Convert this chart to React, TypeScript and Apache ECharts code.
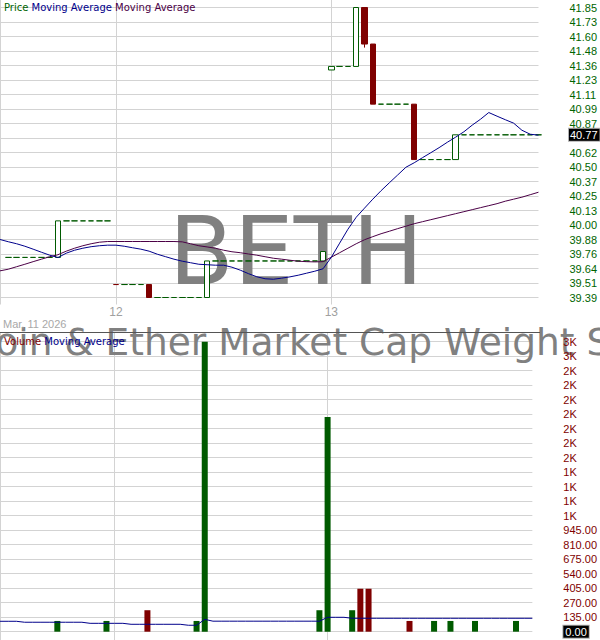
import React, { useEffect, useRef } from 'react';
import * as echarts from 'echarts';

// ---------- data ----------
const sessionDays = [
  { day: '11', first: 12 },
  { day: '12', first: 0 },
  { day: '13', first: 0 },
];
const BARS_PER_DAY = 26;
function barTime(n: number) {
  const m = 9 * 60 + 30 + 15 * n;
  return `${String(Math.floor(m / 60)).padStart(2, '0')}:${String(m % 60).padStart(2, '0')}`;
}
const categories: string[] = [];
sessionDays.forEach((d) => {
  for (let n = d.first; n < BARS_PER_DAY; n++) categories.push(`${d.day} ${barTime(n)}`);
});

// [open, close, low, high]
const ohlc: (number[] | null)[] = [
  null,
  [39.73, 39.73, 39.73, 39.73], [39.73, 39.73, 39.73, 39.73], [39.73, 39.73, 39.73, 39.73],
  [39.73, 39.73, 39.73, 39.73], [39.73, 39.73, 39.73, 39.73], [39.73, 39.73, 39.73, 39.73],
  [39.73, 40.04, 39.73, 40.04],
  [40.04, 40.04, 40.04, 40.04], [40.04, 40.04, 40.04, 40.04], [40.04, 40.04, 40.04, 40.04],
  [40.04, 40.04, 40.04, 40.04], [40.04, 40.04, 40.04, 40.04], [40.04, 40.04, 40.04, 40.04],
  [39.50, 39.50, 39.50, 39.50], [39.50, 39.50, 39.50, 39.50], [39.50, 39.50, 39.50, 39.50],
  [39.50, 39.50, 39.50, 39.50],
  [39.50, 39.39, 39.39, 39.50],
  [39.39, 39.39, 39.39, 39.39], [39.39, 39.39, 39.39, 39.39], [39.39, 39.39, 39.39, 39.39],
  [39.39, 39.39, 39.39, 39.39], [39.39, 39.39, 39.39, 39.39], [39.39, 39.39, 39.39, 39.39],
  [39.39, 39.70, 39.39, 39.70],
  [39.70, 39.70, 39.70, 39.70], [39.70, 39.70, 39.70, 39.70], [39.70, 39.70, 39.70, 39.70],
  [39.70, 39.70, 39.70, 39.70], [39.70, 39.70, 39.70, 39.70], [39.70, 39.70, 39.70, 39.70],
  [39.70, 39.70, 39.70, 39.70], [39.70, 39.70, 39.70, 39.70], [39.70, 39.70, 39.70, 39.70],
  [39.70, 39.70, 39.70, 39.70], [39.70, 39.70, 39.70, 39.70], [39.70, 39.70, 39.70, 39.70],
  [39.70, 39.70, 39.70, 39.70],
  [39.70, 39.78, 39.70, 39.78],
  [41.32, 41.35, 41.32, 41.35],
  [41.35, 41.35, 41.35, 41.35], [41.35, 41.35, 41.35, 41.35],
  [41.35, 41.85, 41.35, 41.85],
  [41.85, 41.54, 41.51, 41.85],
  [41.54, 41.03, 41.03, 41.54],
  [41.03, 41.03, 41.03, 41.03], [41.03, 41.03, 41.03, 41.03], [41.03, 41.03, 41.03, 41.03],
  [41.03, 41.03, 41.03, 41.03],
  [41.03, 40.56, 40.56, 41.03],
  [40.56, 40.56, 40.56, 40.56], [40.56, 40.56, 40.56, 40.56], [40.56, 40.56, 40.56, 40.56],
  [40.56, 40.56, 40.56, 40.56],
  [40.56, 40.77, 40.56, 40.77],
  [40.77, 40.77, 40.77, 40.77], [40.77, 40.77, 40.77, 40.77], [40.77, 40.77, 40.77, 40.77],
  [40.77, 40.77, 40.77, 40.77], [40.77, 40.77, 40.77, 40.77], [40.77, 40.77, 40.77, 40.77],
  [40.77, 40.77, 40.77, 40.77], [40.77, 40.77, 40.77, 40.77], [40.77, 40.77, 40.77, 40.77],
  [40.77, 40.77, 40.77, 40.77],
];

const maFast = [
  39.882, 39.863, 39.846, 39.825, 39.800, 39.774, 39.749, 39.729, 39.766, 39.791,
  39.808, 39.821, 39.829, 39.834, 39.834, 39.825, 39.812, 39.800, 39.783, 39.757,
  39.736, 39.715, 39.698, 39.685, 39.672, 39.668, 39.664, 39.664, 39.647, 39.622,
  39.592, 39.566, 39.549, 39.545, 39.554, 39.565, 39.579, 39.596, 39.613, 39.634,
  39.732, 39.851, 39.969, 40.071, 40.148, 40.224, 40.296, 40.363, 40.429, 40.495,
  40.533, 40.576, 40.618, 40.661, 40.707, 40.750, 40.796, 40.852, 40.902, 40.959,
  40.928, 40.898, 40.869, 40.809, 40.775, 40.767,
];

const maSlow = [
  39.616, 39.630, 39.651, 39.672, 39.694, 39.715, 39.736, 39.753, 39.783, 39.808,
  39.829, 39.846, 39.859, 39.865, 39.865, 39.865, 39.865, 39.865, 39.865, 39.865,
  39.865, 39.865, 39.862, 39.846, 39.829, 39.819, 39.808, 39.791, 39.778, 39.770,
  39.759, 39.749, 39.736, 39.723, 39.715, 39.706, 39.698, 39.694, 39.692, 39.694,
  39.732, 39.770, 39.808, 39.846, 39.880, 39.906, 39.931, 39.952, 39.974, 39.995,
  40.016, 40.033, 40.050, 40.067, 40.084, 40.101, 40.118, 40.135, 40.152, 40.169,
  40.186, 40.207, 40.224, 40.241, 40.262, 40.283,
];

const volumes = [
  0, 0, 0, 0, 0, 0, 0, 100, 0, 0,
  0, 0, 0, 100, 0, 0, 0, 0, 200, 0,
  0, 0, 0, 0, 100, 2700, 0, 0, 0, 0,
  0, 0, 0, 0, 0, 0, 0, 0, 0, 200,
  2000, 0, 0, 200, 400, 400, 0, 0, 0, 0,
  100, 0, 0, 100, 0, 100, 0, 0, 100, 0,
  0, 0, 0, 100, 0, 0,
];

const volMA = [
  97, 97, 97, 88, 88, 88, 88, 88, 88, 88,
  88, 78, 78, 78, 78, 78, 69, 69, 69, 69,
  69, 69, 69, 60, 60, 115, 98, 98, 98, 98,
  98, 98, 98, 98, 98, 98, 98, 98, 98, 98,
  134, 134, 134, 125, 125, 125, 125, 125, 125, 125,
  125, 125, 125, 125, 125, 125, 125, 125, 125, 125,
  125, 125, 125, 125, 125, 125,
];

// tick labels, bottom to top
const priceTickLabels = [
  '39.39', '39.51', '39.64', '39.76', '39.88', '40.00', '40.13', '40.25', '40.37', '40.50',
  '40.62', '', '40.87', '40.99', '41.11', '41.23', '41.36', '41.48', '41.60', '41.73', '41.85',
];
const volTickLabels = [
  '0.00', '135.00', '270.00', '405.00', '540.00', '675.00', '810.00', '945.00',
  '1K', '1K', '1K', '1K', '2K', '2K', '2K', '2K', '2K', '2K', '2K', '3K', '3K',
];
const P_MIN = 39.39;
const P_STEP = 0.123;
const V_STEP = 135;

const titleText = 'ProShares Bitcoin & Ether Market Cap Weight Strategy ETF';
const symbolText = 'BETH';
const dateText = 'Mar, 11 2026';

// ---------- styles ----------
const GREEN = '#005a00';
const RED = '#7f0000';
const BLUE = '#00008b';
const PURPLE = '#4b0046';
const GRIDC = '#d3d3d3';
const AXIS_FONT = 'Liberation Sans, Arial, sans-serif';
const LEG_FONT = 'DejaVu Sans, sans-serif';

const toU = (p: number) => (p - P_MIN) / P_STEP;

export default function App() {
  const ref = useRef<HTMLDivElement>(null);
  useEffect(() => {
    if (!ref.current) return;
    const chart = echarts.init(ref.current, undefined, { renderer: 'svg' });

    const candleData = ohlc.map((r, k) => {
      if (!r) return '-';
      const [o, c, l, h] = r;
      const value = [toU(o), toU(c), toU(l), toU(h)];
      if (o === c) {
        const prevRow = k > 0 ? ohlc[k - 1] : null;
        const prev = prevRow ? prevRow[1] : c;
        const col = prev > c ? RED : GREEN;
        return { value, itemStyle: { borderColor: col, borderColor0: col, borderColorDoji: col } };
      }
      return { value };
    });
    const volData = volumes.map((v, k) => {
      const r = ohlc[k];
      let down = false;
      if (r) {
        const prevRow = k > 0 ? ohlc[k - 1] : null;
        down = r[1] < r[0] || (r[1] === r[0] && !!prevRow && prevRow[1] > r[1]);
      }
      return { value: v, itemStyle: { color: down ? RED : GREEN } };
    });
    const lastIndex = ohlc.length - 1;
    const lastRow = ohlc[lastIndex] as number[];
    const lastPrice = lastRow[1];

    const isDayStart = (idx: number, val: string) => idx === 0 || val.endsWith('09:30');
    const isDayLabel = (_idx: number, val: string) => val.endsWith('09:30');

    const priceMax = 20 + 7.5 / 14.5;
    const volMax = 2700 + (9.7 / 14.5) * V_STEP;
    const priceSplitColors = Array(21).fill(GRIDC).concat(['rgba(0,0,0,0)']);
    const volSplitColors = Array(21).fill(GRIDC).concat(['rgba(0,0,0,0)']);

    const baseGraphics: any[] = [
      {
        id: 'sym', type: 'text', x: 296, y: 251, z: 1, silent: true,
        style: {
          text: symbolText, fill: '#808080', font: `95px ${LEG_FONT}`,
          align: 'center', verticalAlign: 'middle',
        },
      },
      {
        id: 'title', type: 'text', x: 276, y: 342, z: 1, silent: true,
        style: {
          text: titleText, fill: '#808080', font: `37.5px ${LEG_FONT}`,
          align: 'center', verticalAlign: 'middle',
        },
      },
      {
        id: 'sep', type: 'line', z: 10, silent: true,
        shape: { x1: 0, y1: 332.5, x2: 540, y2: 332.5 },
        style: { stroke: '#555555', lineWidth: 1 },
      },
      {
        id: 'legP', type: 'text', x: 4, y: 7, z: 10, silent: true,
        style: {
          text: '{a|Price} {b|Moving Average} {c|Moving Average}',
          font: `10px ${LEG_FONT}`, verticalAlign: 'middle',
          rich: {
            a: { fill: '#006400', font: `10px ${LEG_FONT}` },
            b: { fill: BLUE, font: `10px ${LEG_FONT}` },
            c: { fill: PURPLE, font: `10px ${LEG_FONT}` },
          },
        },
      },
      {
        id: 'legV', type: 'text', x: 4, y: 341, z: 10, silent: true,
        style: {
          text: '{a|Volume} {b|Moving Average}',
          font: `10px ${LEG_FONT}`, verticalAlign: 'middle',
          rich: {
            a: { fill: '#800000', font: `10px ${LEG_FONT}` },
            b: { fill: BLUE, font: `10px ${LEG_FONT}` },
          },
        },
      },
      {
        id: 'date', type: 'text', x: 3, y: 324, z: 10, silent: true,
        style: { text: dateText, fill: '#a8a8a8', font: `11px ${AXIS_FONT}`, verticalAlign: 'middle' },
      },
    ];

    const option: any = {
      animation: false,
      backgroundColor: '#ffffff',
      grid: [
        { left: 0, top: 0, width: 540, height: 297.5 },
        { left: 0, top: 332, width: 540, height: 299.7 },
      ],
      xAxis: [
        {
          type: 'category', gridIndex: 0, data: categories, boundaryGap: false,
          axisLine: { show: false },
          axisTick: { show: true, interval: isDayStart, length: 7, lineStyle: { color: GRIDC } },
          axisLabel: {
            show: true, interval: isDayLabel, margin: 8, color: '#a0a0a0', fontSize: 12,
            fontFamily: AXIS_FONT, formatter: (v: string) => v.split(' ')[0],
          },
          splitLine: { show: true, interval: isDayStart, lineStyle: { color: GRIDC } },
        },
        {
          type: 'category', gridIndex: 1, data: categories, boundaryGap: false,
          axisLine: { show: false },
          axisTick: { show: true, interval: isDayStart, length: 10, lineStyle: { color: GRIDC } },
          axisLabel: { show: false },
          splitLine: { show: true, interval: isDayStart, lineStyle: { color: GRIDC } },
        },
      ],
      yAxis: [
        {
          type: 'value', gridIndex: 0, position: 'right', min: 0, max: priceMax, interval: 1,
          axisLine: { show: false }, axisTick: { show: false },
          splitLine: { show: true, lineStyle: { color: priceSplitColors } },
          axisLabel: {
            margin: 31, color: '#006400', fontSize: 11, fontFamily: AXIS_FONT,
            formatter: (v: number) => {
              const i = Math.round(v);
              if (Math.abs(v - i) > 1e-6) return '';
              return priceTickLabels[i] ?? '';
            },
          },
        },
        {
          type: 'value', gridIndex: 1, position: 'right', min: 0, max: volMax, interval: V_STEP,
          axisLine: { show: false }, axisTick: { show: false },
          splitLine: { show: true, lineStyle: { color: volSplitColors } },
          axisLabel: { show: false },
        },
        {
          type: 'value', gridIndex: 1, position: 'right', min: 0, max: volMax, interval: V_STEP, z: 5,
          axisLine: { show: false }, axisTick: { show: false }, splitLine: { show: false },
          axisLabel: {
            margin: 31, color: '#800000', fontSize: 11, fontFamily: AXIS_FONT,
            formatter: (v: number) => {
              const i = Math.round(v / V_STEP);
              if (Math.abs(v - i * V_STEP) > 1e-6) return '';
              if (i === 0) return `{cur|${volTickLabels[0]}}`;
              return volTickLabels[i] ?? '';
            },
            rich: {
              cur: {
                color: '#ffffff', backgroundColor: '#000000', padding: [1, 2, 0, 2],
                fontSize: 11, fontFamily: AXIS_FONT, borderColor: '#b0b0b0', borderWidth: 1,
              },
            },
          },
        },
      ],
      series: [
        {
          type: 'candlestick', xAxisIndex: 0, yAxisIndex: 0, data: candleData, barWidth: 6, clip: false,
          itemStyle: {
            color: '#ffffff', color0: RED, borderColor: GREEN, borderColor0: RED,
            borderColorDoji: GREEN, borderWidth: 1,
          },
        },
        {
          type: 'line', xAxisIndex: 0, yAxisIndex: 0, data: maSlow.map(toU), symbol: 'none',
          lineStyle: { color: PURPLE, width: 1 }, z: 3,
        },
        {
          type: 'line', xAxisIndex: 0, yAxisIndex: 0, data: maFast.map(toU), symbol: 'none',
          lineStyle: { color: BLUE, width: 1 }, z: 3,
        },
        {
          type: 'bar', xAxisIndex: 1, yAxisIndex: 1, data: volData, barWidth: 6,
        },
        {
          type: 'line', xAxisIndex: 1, yAxisIndex: 1, data: volMA, symbol: 'none',
          lineStyle: { color: BLUE, width: 1 }, z: 3,
        },
      ],
      graphic: { elements: baseGraphics },
    };
    chart.setOption(option);

    // last price box placed through the price axis scale
    const pt = chart.convertToPixel({ xAxisIndex: 0, yAxisIndex: 0 } as any, [lastIndex, toU(lastPrice)]) as any;
    const yPix = Array.isArray(pt) ? pt[1] : 135;
    chart.setOption({
      graphic: {
        elements: [
          ...baseGraphics,
          {
            id: 'lastBox', type: 'text', x: 569, y: yPix, z: 20, silent: true,
            style: {
              text: lastPrice.toFixed(2), fill: '#ffffff', font: `11px ${AXIS_FONT}`,
              verticalAlign: 'middle', backgroundColor: '#000000', borderColor: '#b0b0b0',
              borderWidth: 1, padding: [1, 2, 0, 1],
            },
          },
        ],
      },
    });
    return () => chart.dispose();
  }, []);

  return (
    <div
      ref={ref}
      style={{ position: 'fixed', left: 0, top: 0, width: 600, height: 640, background: '#fff' }}
    />
  );
}
